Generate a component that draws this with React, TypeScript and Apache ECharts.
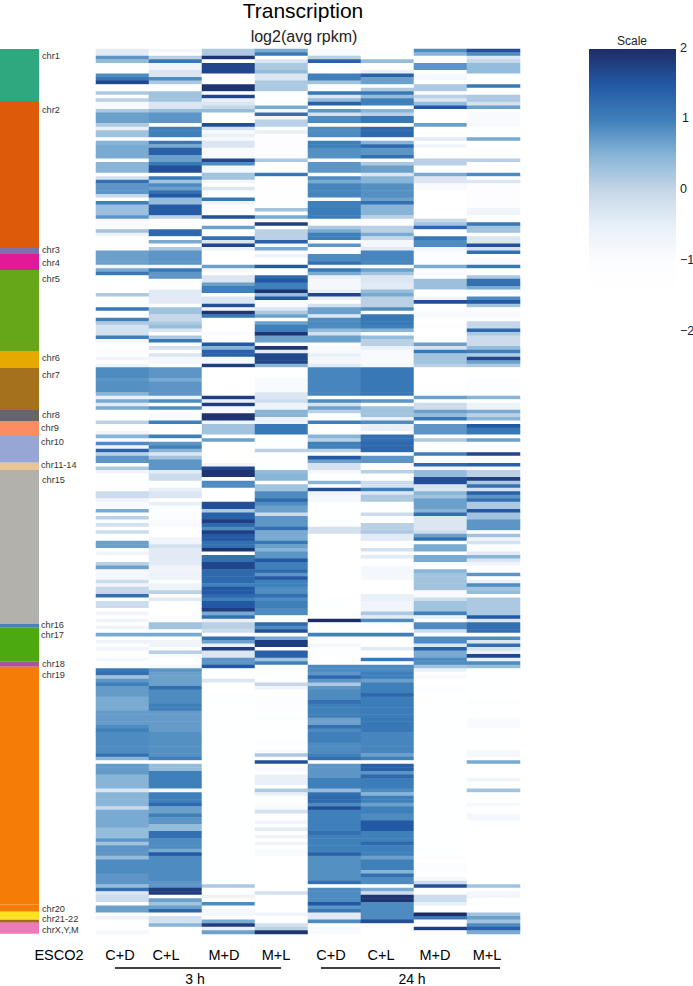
import React, { useEffect, useRef } from "react";
import * as echarts from "echarts";

const rowCount = 250;
const columns = ["C+D 3h", "C+L 3h", "M+D 3h", "M+L 3h", "C+D 24h", "C+L 24h", "M+D 24h", "M+L 24h"];

// each list: endRow, value, endRow, value ... (rows of equal value)
const cd3 = [2,-.4,3,.8,4,.4,7,-1.5,8,.9,9,1.1,10,1.7,12,-1.5,13,.2,14,-1.2,15,.1,17,-.9,18,.2,21,.7,22,.2,23,-.5,25,.3,26,-1,27,.5,31,.6,32,-1.5,35,.5,36,-1.5,37,-.2,38,1.2,41,.8,42,0,43,-1.5,44,1,47,.35,48,.8,51,-.9,52,.3,53,-.6,57,-1.5,61,.7,62,-.8,
63,.6,64,1.1,69,-1.5,70,.2,73,-1.2,74,1.1,76,-1.5,77,1,78,.2,81,-.2,82,1,83,-.7,85,-1.5,86,-.9,87,-1.4,88,-.7,89,-1.2,90,-.6,93,.9,94,.8,97,.85,98,.5,99,-.5,100,.6,101,-.4,102,.6,105,-1.5,106,.1,108,-1.5,109,-.7,110,.5,111,-.9,112,.9,113,-.7,114,1.4,115,.1,117,.8,118,-1.5,119,.2,
120,-.7,125,-1.3,127,-.1,128,-.7,130,-.9,131,.6,132,-1.5,133,.1,134,-1,135,-.2,136,-1.5,137,-.1,139,-1.2,141,.7,142,-1.5,143,-.7,145,-1.5,146,.1,147,.7,150,-.8,151,-.1,152,-.7,154,0,155,1.2,156,-1.5,158,-.1,159,-1.5,160,-.7,161,-1.5,162,-.7,163,-1.5,164,-.7,165,-1.5,166,.6,167,-1.5,168,-.6,169,-1.5,170,-.7,172,-1.5,173,-.8,175,-1.5,176,1.1,
177,1.2,178,.3,179,.8,180,1,183,.75,187,.6,191,.75,192,.9,193,1,199,.9,200,1.2,201,.5,202,-1.2,205,.75,209,.5,210,-.3,214,.5,215,0,220,.6,223,.4,224,.8,225,.3,228,.8,229,.4,233,.9,236,.8,237,.4,238,1.2,239,-.3,241,-.1,242,-1.5,244,.7,245,-1.5,246,-.6,249,-1.5,250,-.8];
const cl3 = [1,-.8,2,-1.5,3,.1,4,1.1,6,-.7,8,-.3,9,.9,10,.2,12,-1.5,15,.3,17,-.3,18,.4,21,.8,22,-1.5,25,1,26,-1.5,27,1.1,28,.6,30,1.4,32,.7,33,1.1,35,1.6,36,-1.5,37,1.1,38,.3,39,.9,40,.7,41,1.2,42,1.5,44,.4,47,1.45,48,.1,51,-1.5,53,1.3,54,-1.5,55,.6,56,-1.5,57,.2,61,.8,62,-.8,
63,1.1,65,.8,68,-1.2,72,-.4,73,-1.4,75,.3,77,0,78,.2,79,.4,80,-.3,81,-1.5,82,.2,83,1.1,84,-1.5,85,-.2,86,-1.5,87,-.3,89,-.8,90,-1.2,93,.8,94,.6,98,.8,99,-.6,100,.9,101,-1,102,.9,103,-1.2,105,-.9,106,1,109,-1.5,110,1,111,-1.3,112,.8,113,1,114,.5,115,-.3,116,.3,119,.8,
120,-.4,122,-.1,124,-1.5,125,-.5,127,-.3,128,-1.5,129,-.5,133,-1,135,-.9,138,-1.5,140,-.7,141,-.2,146,-.4,148,-.7,150,-.6,151,-1.5,153,-.6,154,.1,155,-1.5,156,-.4,160,-1.5,162,-1,164,.3,165,-1.4,166,.6,167,-1.5,169,-.7,170,-1.2,171,.1,172,-.9,174,-1.5,175,-.8,176,.8,
180,.7,181,1.2,185,.9,187,1,193,.75,200,.85,201,1,202,-1.5,204,.4,209,1,210,-.8,213,1,214,1.3,216,.7,217,1,219,.8,221,.4,223,1.2,226,.9,227,.6,228,1.5,235,.9,237,.8,239,1.8,240,-1.5,241,.7,242,.3,243,.7,244,1.3,245,-1.5,247,-.2,248,.5,250,-1.5];
const md3 = [2,.2,3,1.9,4,-1.5,7,1.7,10,-1.5,12,1.9,13,-1.5,14,1.7,15,-.5,16,-.3,17,0,18,.4,21,-1.5,22,1.6,23,-.2,24,-.9,25,-.5,26,-.9,28,-.3,31,-.9,32,1.7,33,.9,35,-.8,37,.3,38,-.8,39,-1.5,40,-.3,42,-1.5,43,1.1,44,-.6,47,-1,48,1.6,50,-1,51,.7,53,-1.5,54,1.2,55,-.3,56,1.7,57,-.6,61,-1.5,62,.7,
63,-.8,64,-1.5,66,-.3,67,.7,69,1,70,-1.5,72,-.3,73,1.6,74,-.7,75,1.9,76,1.1,80,-1.5,81,-.9,83,-1.5,84,1.5,85,.5,87,1.4,89,-.8,90,1.8,98,-1.5,99,1.8,100,-.5,101,1.8,103,-.9,105,1.9,106,-.7,109,.3,110,-1.5,111,.7,117,-1.5,118,-.7,119,1.7,
121,1.9,122,-1.5,124,.9,128,-1.5,130,1.6,131,.2,133,1.4,134,1.8,135,1.3,136,.9,137,1.8,139,1.5,141,1.2,142,1.9,143,-1.5,145,1.2,147,1.7,151,1.3,152,1,154,1.5,155,1.3,156,1,158,1.5,159,1.8,160,.6,161,1.2,162,-.5,164,.1,165,-.1,166,-1.5,167,1.2,168,.7,169,-.5,170,1.8,172,-.3,174,.8,175,1.5,176,-1.5,
178,-1.5,179,-.3,182,-1.5,183,-1.2,236,-1.4,237,.2,239,-1.5,240,-.6,241,-1.5,242,.9,243,-1.5,245,-.8,246,-1.5,247,.6,248,1.8,249,-.5,250,.7];
const ml3 = [1,.6,2,1.1,3,-1.5,4,-.3,6,.2,7,.4,9,-.3,12,.2,16,-1.5,17,.6,18,-.8,19,1.2,20,-.8,22,.1,23,-1.2,24,-.5,25,-1.5,31,-1.1,32,.2,35,-1.5,36,1.1,45,-1.3,46,.3,47,-1,48,.6,49,-1,50,1.8,51,-1,54,.1,55,1.4,56,-.8,57,.6,58,-1.1,59,-.6,61,-1.5,62,1.5,
64,-1.5,65,1.3,66,1.5,68,1,69,1.9,70,.4,71,1.5,73,-.9,74,-.3,75,.2,76,.7,77,-1.5,78,.7,80,1,81,1.9,83,.7,84,-1,85,1.9,86,-.4,89,1.7,90,.5,93,-1.5,97,-.9,99,-.3,100,-.1,102,-.6,104,.5,106,-.6,109,1.1,113,-1.2,114,.1,119,-1.2,
120,.4,122,.5,123,-1.5,125,.3,127,.9,128,1.3,129,.9,131,.7,132,-.1,135,.8,136,1.2,139,.6,140,1.1,141,.7,142,.5,144,.8,145,1.5,147,1,148,1.3,149,.8,150,1.5,152,1,154,.9,155,1.2,156,.9,158,1,160,.9,161,-1.5,162,-1,163,1.3,164,.9,165,1.6,166,-1.5,167,.6,169,1.8,170,-1.5,172,1.4,173,.3,174,1,176,-1.5,
177,-1.3,179,-1.4,180,0,181,-.7,183,-1.4,187,-1.1,189,-1.4,190,-1,195,-1.4,197,-1.2,198,-1.4,199,-.9,200,.2,201,-1.3,202,1.6,203,-1.5,204,-.9,205,-1.5,208,-.5,209,-1.5,210,.2,211,-.5,213,-1.5,215,-.9,216,-.2,218,-1.5,219,-.7,220,-1.5,221,-.4,222,-1.5,223,-.7,224,-1.5,225,-.7,226,-1.5,228,-.9,238,-1.5,239,-.2,244,-1.5,245,-.7,247,-1.5,248,-.2,249,.1,250,1.9];
const cd24 = [2,-.9,3,.1,4,1.4,7,-1,9,1,10,.3,12,-1,13,1.1,14,-.3,15,.4,16,1.4,17,-1,18,.8,19,-.2,21,.9,22,-1.1,25,.9,26,-1,28,1,31,.85,32,-1.5,35,.8,36,-1.5,37,.9,38,.6,42,.95,43,-.9,45,1,48,1.05,50,-1,51,.2,52,.6,54,1,55,-1,56,.8,58,-1,60,.9,61,1.2,62,-.8,
63,1.1,64,.6,65,-.5,68,-.8,69,-.5,70,1.7,71,-.5,72,-1.2,73,-.2,75,.7,76,-.3,79,.9,80,.4,81,-.2,83,.7,84,-1.5,86,-.9,87,-.5,89,-.8,90,-.4,98,.95,99,-1.5,100,.9,101,-.2,102,.7,103,.1,105,-1.2,106,1,109,-1.5,110,.5,111,.1,113,1,114,.1,115,-1.5,116,1.5,117,.7,119,-.2,
120,-.8,122,-1.2,123,.5,124,-1.5,125,1.6,126,-.7,128,-.8,129,-1.2,135,-1.4,137,-.2,155,-1.5,156,-1.3,161,-1.4,162,2,165,-1.5,166,1,168,-1.3,169,-.8,172,-1.2,174,-1.5,176,.9,
177,.8,178,1.3,179,.8,180,.2,181,.8,184,.9,185,1.2,189,1,191,.7,192,1.2,193,.9,196,1,199,.9,200,1,201,1.2,202,-1.5,206,.8,209,1,210,.4,211,1.2,213,1.3,214,.9,215,1.6,221,1,222,1.2,227,1,228,1.4,235,.85,236,1.2,237,-1.5,241,.9,242,1.5,243,.8,244,1.1,246,-.4,247,.9,248,-1.5,250,-.9];
const cl24 = [3,-1.5,4,.4,6,-1.5,7,-.5,8,1.4,10,.7,11,-1.2,12,.2,13,1.1,14,.4,16,1,17,-1.3,18,.5,19,.1,21,1.1,22,-1.5,25,1.3,26,-1,27,.5,28,1.3,30,.8,31,1.2,32,-1.3,33,.2,35,.7,36,-.3,38,.5,42,.85,43,.7,44,1.2,47,.5,48,.1,50,-1,52,.1,53,.6,54,0,56,-.8,57,-.4,61,.95,62,-1,
63,.7,64,.3,66,-.3,68,-.4,69,.4,70,.6,73,.1,74,.9,75,-1.5,78,1.1,79,1,80,.5,81,-1.2,82,.4,84,.1,85,-.5,89,-.9,90,-.8,98,1.1,99,-1.5,100,.8,101,-1,104,.3,105,-.5,106,.9,108,-.5,109,-1.5,111,1.2,114,1.3,115,-1.5,117,.8,119,-1.5,
120,.1,122,-1.3,123,-.1,124,-.2,125,1,126,-.3,128,.2,131,-1.5,132,-.1,134,-1.2,136,.1,137,.2,139,-.4,141,-1.5,142,-.2,143,-1.5,144,-.4,146,-1.5,150,-.8,154,-1.5,156,-.5,159,-.7,160,.2,161,-.4,162,.9,165,-1.5,166,1,169,-1.5,170,-.4,172,-1.5,173,1.1,174,-1.5,176,.9,
178,1,179,.7,182,1,183,1.3,189,1.05,193,1.1,199,.95,200,.7,201,1,202,-1.5,204,1.4,205,.8,206,1.3,209,1.05,210,.9,211,.5,213,1,214,.7,216,1,218,.9,221,1.5,224,1,225,1.3,228,1,229,.7,232,1,233,.5,234,1.2,236,.9,237,-1.5,238,.6,239,-.1,241,1.9,246,.9,247,1.6,250,-1.5];
const md24 = [1,.9,2,.5,3,-1.2,4,-1.5,6,.8,7,-1.5,9,-.8,10,-1.5,12,.2,13,-1,14,.1,15,-.3,16,.4,17,1.5,21,-1.5,22,.7,25,-1.5,26,-.4,27,-1.4,28,-.7,31,-1.5,33,.1,35,-1.5,36,.6,38,-.3,40,-.9,48,-1.5,49,0,50,.3,51,1.3,53,-1.5,54,1.1,56,.9,57,-.7,61,-1,62,.6,
64,-.9,65,-1.5,68,.35,70,-1.5,71,-.7,72,1.6,74,-1.5,76,-.9,78,-1.5,79,-1,83,-1.5,84,.7,85,-.2,86,1.1,89,.3,90,.1,98,-1.5,99,.7,100,-1.5,102,-.1,103,.7,104,.4,105,1.1,106,-1.5,109,.8,110,-1.4,111,.2,114,-1.5,115,1,117,-1.3,118,1.3,119,-.7,
121,.4,123,1.6,124,-.2,125,-.3,126,.5,127,.3,130,.7,131,.5,132,1.2,136,-.3,137,-.1,138,.7,139,1.2,140,-1,142,.6,143,-1.5,145,.6,146,-.9,147,-1.5,148,.5,153,.3,155,-.9,156,-.1,159,.3,160,1,161,-.5,162,-1.5,164,.9,165,-.1,166,-1.5,168,.9,169,-.3,170,1.4,172,.6,174,.9,175,.3,176,-.5,
177,-1.3,178,-.9,180,-1.5,182,-1,228,-1.4,229,-1,230,-1.5,233,-1,234,-1.5,235,-.8,236,-.1,237,1.6,239,-1.5,241,-.1,242,-.5,244,-1.5,245,2,246,1.1,248,-1.5,249,1.8,250,-1.5];
const ml24 = [1,1.6,2,.9,3,-.3,4,0,7,.4,10,-1.5,11,1.1,13,-1.2,15,.2,16,-.2,17,.7,18,-1.3,22,-.9,25,-1.4,26,.6,31,-1.5,32,.1,35,-1.5,36,.9,37,-1.3,38,-.3,45,-1.1,47,-.7,49,-1.4,50,1.1,52,.3,53,-1.5,55,-.3,56,1.6,57,-.2,58,1.2,59,-1.5,61,-.9,62,1.1,
64,-1.5,65,.2,67,1.2,68,.6,69,-.9,70,-1.5,71,.9,72,1.5,73,.3,74,-1.5,76,-.9,77,-1.5,79,0,80,1.3,81,.2,84,-.1,85,.4,86,1,87,.2,88,1.7,89,.7,90,.2,93,-1.5,98,-1,99,.5,100,-1.5,102,-.6,103,.6,104,.1,105,.5,106,-1.5,107,1.5,109,1.1,110,-1.5,111,.7,112,-1.2,113,-1,114,-1.2,115,1.7,117,-1.2,118,1.4,119,-.9,
121,.1,122,1.8,123,.2,124,1.2,125,-.2,126,1.4,127,.8,128,1.2,130,.2,131,1.5,133,.3,136,.8,137,-1.5,138,.3,139,-.7,140,-.2,142,-1,143,-.4,144,.5,145,-.3,146,-.7,148,-1.2,149,.8,150,-1.3,151,-.5,152,.9,153,.3,154,.4,155,-1.5,160,.2,161,1.5,162,-.3,165,1.2,166,-1.5,167,.9,168,-.3,169,1.2,170,-.2,171,-.5,172,1.7,173,-.5,174,.9,175,.4,176,-1.5,
184,-1.4,185,-1,189,-1.4,192,-.9,198,-1.4,200,-.8,201,-1.3,202,.6,206,-1.5,207,-.7,209,-1.5,210,.3,213,-1.5,214,-.8,216,-1.5,218,-.8,220,-1.2,236,-1.45,237,.3,238,-1.4,240,-.8,241,-1.4,242,-1,244,-1.5,245,.3,246,.7,247,.3,248,.9,249,1.4,250,.6];

const runLists = [cd3, cl3, md3, ml3, cd24, cl24, md24, ml24];

// Chromosome strip: rows covered by each band, and its colour
const bandNames = ["chr1","chr2","chr3","chr4","chr5","chr6","chr7","chr8","chr9","chr10","chr11-14","chr15","chr16","chr17","chr18","chr19","chr20","chr21","chr22","chrX,Y,M"];
const bandRows = [14.7,41.5,1.7,4.5,22.9,4.8,11.9,3.1,4.2,7.6,2,43.5,1.1,9.6,1.4,67.2,2,2.3,.8,3.1];
const bandColors = ["#2fa87f","#dd5a0b","#7f71ae","#e31a98","#66a71a","#e6a902","#a6711d","#666666","#fc8d62","#98a6d5","#e8c496","#b3b1ab","#4a80bb","#4ca90f","#a8569c","#f57c07","#f57c07","#fde122","#a5682a","#ec79b9"];

const chrLabels = ["chr1","chr2","chr3","chr4","chr5","chr6","chr7","chr8","chr9","chr10","chr11-14","chr15","chr16","chr17","chr18","chr19","chr20","chr21-22","chrX,Y,M"];
const treatments = ["C+D","C+L","M+D","M+L","C+D","C+L","M+D","M+L"];
const scaleTicks = ["2","1","0","−1","−2"];
const timeGroups = ["3 h","24 h"];
const palette = ["#ffffff","#ffffff","#fcfdff","#e9f0f8","#c6d7e9","#88b5d7","#3f80ba","#2358a4","#1e2c66"];

function expand(runs: number[]): number[] {
  const out: number[] = [];
  for (let k = 0; k < runs.length; k += 2) {
    while (out.length < runs[k]) out.push(runs[k + 1]);
  }
  return out;
}

const FONT = "Liberation Sans";
const text = (t: string, x: number, y: number, size: number, align: string = "left", color = "#111") => ({
  type: "text", x, y, silent: true,
  style: { text: t, fontFamily: FONT, fontSize: size, fill: color, textAlign: align, textVerticalAlign: "middle" },
});

export default function App() {
  const ref = useRef<HTMLDivElement>(null);
  useEffect(() => {
    document.body.style.margin = "0";
    const chart = echarts.init(ref.current!, null, { renderer: "svg" });
    const cells: number[][] = [];
    runLists.forEach((runs, c) => expand(runs).forEach((v, r) => cells.push([c, r, v])));
    const rows = Array.from({ length: rowCount }, (_, i) => String(i));

    const labelY = [56,110,250,263,279,358,375,415,428,442,465,480,624.5,634.5,664,675,909,919,930];
    const labelX = [42,42,42,42,42,42,42,42,41,41,41,42,41,41,42,42,42,42,42];
    const treatX = [120,166,224,276,331,381,435,487];
    const tickY = [48,118,189,260,331];
    const tickX = [680,682,680,680,680];

    const n = palette.length - 1;
    const gradientStops = palette.slice().reverse().map((color, i) => ({ offset: i / n, color }));
    const graphic: any[] = [
      text("Transcription", 303, 10.5, 21, "center", "#000"),
      text("log2(avg rpkm)", 304, 36, 16, "center", "#222"),
      text("Scale", 632, 41, 12, "center", "#222"),
      text("ESCO2", 59, 955, 14.5, "center", "#000"),
      text(timeGroups[0], 195, 978.5, 14, "center", "#000"),
      text(timeGroups[1], 412, 978.5, 14, "center", "#000"),
      { type: "line", silent: true, shape: { x1: 115, y1: 968, x2: 281, y2: 968 }, style: { stroke: "#000", lineWidth: 1.5 } },
      { type: "line", silent: true, shape: { x1: 321, y1: 968, x2: 500, y2: 968 }, style: { stroke: "#000", lineWidth: 1.5 } },
      {
        type: "rect", silent: true, shape: { x: 589, y: 49, width: 87, height: 284 },
        style: { fill: { type: "linear", x: 0, y: 0, x2: 0, y2: 1, global: false, colorStops: gradientStops } },
      },
    ];
    chrLabels.forEach((t, i) => graphic.push(text(t, labelX[i], labelY[i], 9.2, "left", "#333")));
    treatments.forEach((t, i) => graphic.push(text(t, treatX[i], 955, 14.5, "center", "#000")));
    scaleTicks.forEach((t, i) => graphic.push(text(t, tickX[i], tickY[i], 12.5, "left", "#222")));

    chart.setOption({
      animation: false,
      backgroundColor: "#fff",
      textStyle: { fontFamily: FONT },
      grid: [
        { left: 96, top: 49, width: 424, height: 885 },
        { left: 0, top: 49, width: 39, height: 885 },
      ],
      xAxis: [
        { type: "category", gridIndex: 0, data: columns, show: false },
        { type: "category", gridIndex: 1, data: ["strip"], show: false },
      ],
      yAxis: [
        { type: "category", gridIndex: 0, data: rows, inverse: true, show: false },
        { type: "value", gridIndex: 1, min: 0, max: rowCount, inverse: true, show: false },
      ],
      visualMap: {
        type: "continuous",
        show: false,
        seriesIndex: 0,
        min: -2, max: 2,
        inRange: { color: palette },
      },
      graphic,
      series: [
        {
          type: "heatmap", xAxisIndex: 0, yAxisIndex: 0, data: cells, silent: true,
          progressive: 0, itemStyle: { borderWidth: 0 }, emphasis: { disabled: true },
        },
        ...bandNames.map((name, i) => ({
          type: "bar", name, xAxisIndex: 1, yAxisIndex: 1, stack: "chr", barWidth: "100%", silent: true,
          data: [bandRows[i]], itemStyle: { color: bandColors[i] },
        })),
      ],
    });
    return () => chart.dispose();
  }, []);
  return <div ref={ref} style={{ width: 693, height: 986 }} />;
}
